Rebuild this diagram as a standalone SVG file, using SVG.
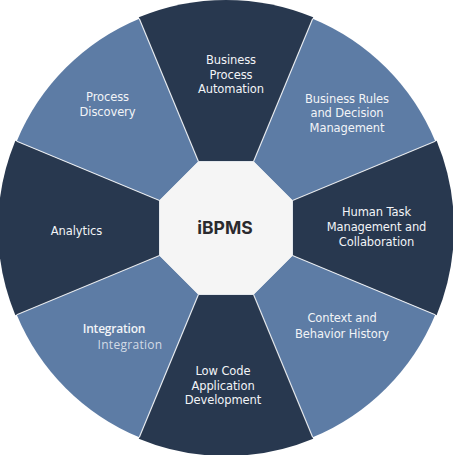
<svg xmlns="http://www.w3.org/2000/svg" width="453" height="455" viewBox="0 0 453 455">
  <style>
    .dark { fill: #28384f; }
    .light { fill: #5d7ca5; }
    .lbl { font-family: "DejaVu Sans", Verdana, sans-serif; font-size: 11.5px; fill: #f2f4f7; text-anchor: middle; letter-spacing: -0.1px; }
    .div { stroke: #ffffff; stroke-opacity: 0.8; stroke-width: 1.2; fill: none; }
  </style>
  <rect width="453" height="455" fill="#ffffff"/>

  <g id="seg-bpa">
    <path class="dark" d="M138.75,17.36 A228,228 0 0 1 313.25,17.36 L253.55,161.5 L198.45,161.5 Z"/>
    <text class="lbl" x="231" y="64">Business</text>
    <text class="lbl" x="231" y="78.5">Process</text>
    <text class="lbl" x="231" y="93">Automation</text>
  </g>
  <g id="seg-rules">
    <path class="light" d="M312.68,18.74 A226.5,226.5 0 0 1 435.26,141.32 L292.5,200.45 L253.55,161.5 Z"/>
    <text class="lbl" x="347" y="102.5">Business Rules</text>
    <text class="lbl" x="347" y="117">and Decision</text>
    <text class="lbl" x="347" y="132">Management</text>
  </g>
  <g id="seg-human">
    <path class="dark" d="M436.64,140.75 A228,228 0 0 1 436.64,315.25 L292.5,255.55 L292.5,200.45 Z"/>
    <text class="lbl" x="376.5" y="216">Human Task</text>
    <text class="lbl" x="376.5" y="231">Management and</text>
    <text class="lbl" x="376.5" y="245.5">Collaboration</text>
  </g>
  <g id="seg-context">
    <path class="light" d="M435.26,314.68 A226.5,226.5 0 0 1 312.68,437.26 L253.55,294.5 L292.5,255.55 Z"/>
    <text class="lbl" x="342" y="322">Context and</text>
    <text class="lbl" x="342" y="338">Behavior History</text>
  </g>
  <g id="seg-lowcode">
    <path class="dark" d="M313.25,438.64 A228,228 0 0 1 138.75,438.64 L198.45,294.5 L253.55,294.5 Z"/>
    <text class="lbl" x="223" y="375">Low Code</text>
    <text class="lbl" x="223" y="389.5">Application</text>
    <text class="lbl" x="223" y="404">Development</text>
  </g>
  <g id="seg-integration">
    <path class="light" d="M139.32,437.26 A226.5,226.5 0 0 1 16.74,314.68 L159.5,255.55 L198.45,294.5 Z"/>
    <text x="114" y="332.5" font-family="'Open Sans', sans-serif" font-weight="600" font-size="12" fill="#f2f4f7" text-anchor="middle" letter-spacing="-0.2">Integration</text>
    <text x="130" y="349" font-family="'Open Sans', sans-serif" font-size="12" fill="#d3dbe6" text-anchor="middle" letter-spacing="0.3">Integration</text>
  </g>
  <g id="seg-analytics">
    <path class="dark" d="M15.36,315.25 A228,228 0 0 1 15.36,140.75 L159.5,200.45 L159.5,255.55 Z"/>
    <text class="lbl" x="76.5" y="235">Analytics</text>
  </g>
  <g id="seg-discovery">
    <path class="light" d="M16.74,141.32 A226.5,226.5 0 0 1 139.32,18.74 L198.45,161.5 L159.5,200.45 Z"/>
    <text class="lbl" x="107.5" y="100.5">Process</text>
    <text class="lbl" x="107.5" y="115.5">Discovery</text>
  </g>

  <g id="dividers">
    <line class="div" x1="198.45" y1="161.5" x2="139.32" y2="18.74"/>
    <line class="div" x1="253.55" y1="161.5" x2="312.68" y2="18.74"/>
    <line class="div" x1="292.5" y1="200.45" x2="435.26" y2="141.32"/>
    <line class="div" x1="292.5" y1="255.55" x2="435.26" y2="314.68"/>
    <line class="div" x1="253.55" y1="294.5" x2="312.68" y2="437.26"/>
    <line class="div" x1="198.45" y1="294.5" x2="139.32" y2="437.26"/>
    <line class="div" x1="159.5" y1="255.55" x2="16.74" y2="314.68"/>
    <line class="div" x1="159.5" y1="200.45" x2="16.74" y2="141.32"/>
  </g>

  <g id="center">
    <polygon points="198.45,161.5 253.55,161.5 292.5,200.45 292.5,255.55 253.55,294.5 198.45,294.5 159.5,255.55 159.5,200.45" fill="#f5f5f5" stroke="#e3e7ec" stroke-width="1"/>
    <text x="225" y="234" font-family="Inter, 'Open Sans', sans-serif" font-weight="700" font-size="17.5" fill="#2a2a2e" text-anchor="middle">iBPMS</text>
  </g>
</svg>
